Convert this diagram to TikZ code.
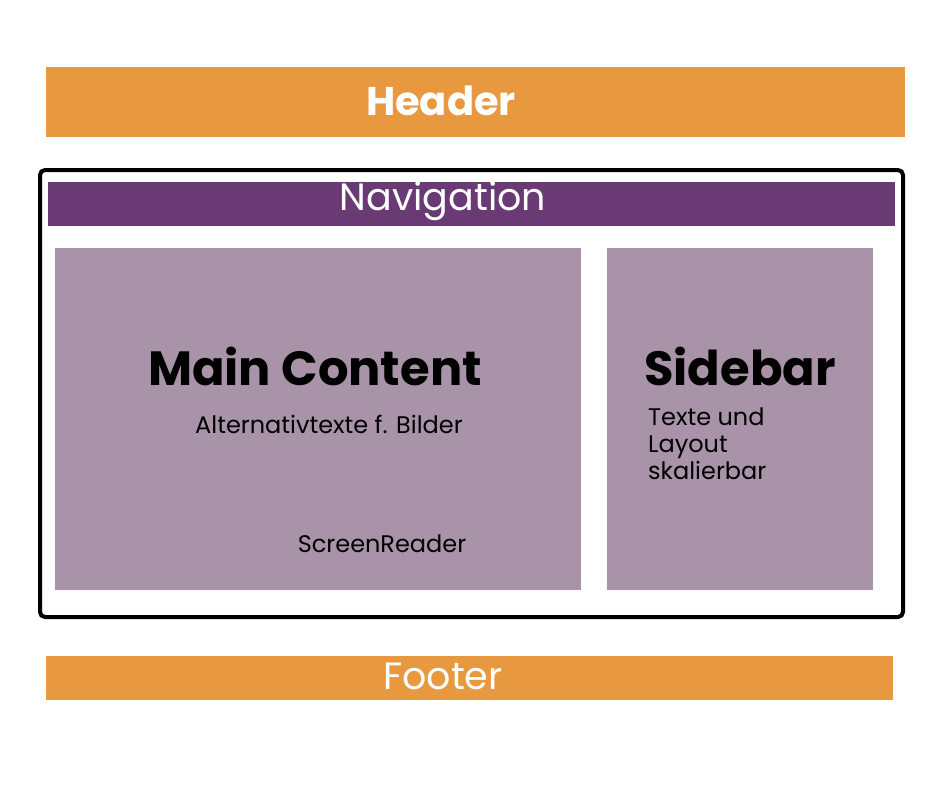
\documentclass[tikz,border=0pt]{standalone}
\usepackage{fontspec}
\setmainfont{Poppins}
\usetikzlibrary{positioning}
\definecolor{bandorange}{HTML}{E8993F}
\definecolor{navpurple}{HTML}{693A73}
\definecolor{boxmauve}{HTML}{A993A9}

\begin{document}
\begin{tikzpicture}[x=1pt, y=-1pt]
\tikzset{
  band/.style={fill=bandorange, draw=none},
  panel/.style={fill=boxmauve, draw=none},
  btitle/.style={text=white, font=\fontsize{40}{44}\selectfont\bfseries},
  wtext/.style={text=white, font=\fontsize{38}{42}\selectfont},
  ptitle/.style={text=black, font=\fontsize{48}{52}\selectfont\bfseries},
  ptext/.style={text=black, font=\fontsize{24}{27}\selectfont, align=left},
}
\useasboundingbox (0,0) rectangle (940,788);

\fill[band] (46,67) rectangle (905,137);
\node[btitle] (header) at (441,101) {Header};

\draw[line width=4pt, rounded corners=5pt] (40,170) rectangle (903,617);
\fill[navpurple] (48,182) rectangle (895,226);
\node[wtext] (nav) at (443,201) {Navigation};

\fill[panel] (55,248) rectangle (581,590);
\node[ptitle] (main) at (315,366) {Main Content};
\node[ptext] (alt) at (329,424) {Alternativtexte f. Bilder};
\node[ptext] (reader) at (382,544) {ScreenReader};

\fill[panel] (607,248) rectangle (873,590);
\node[ptitle] (side) at (740,366) {Sidebar};
\node[ptext, anchor=north west, inner sep=0pt] (sidetext) at (648,408) {Texte und\\Layout\\skalierbar};

\fill[band] (46,656) rectangle (893,700);
\node[wtext] (footer) at (443,676) {Footer};
\end{tikzpicture}
\end{document}
